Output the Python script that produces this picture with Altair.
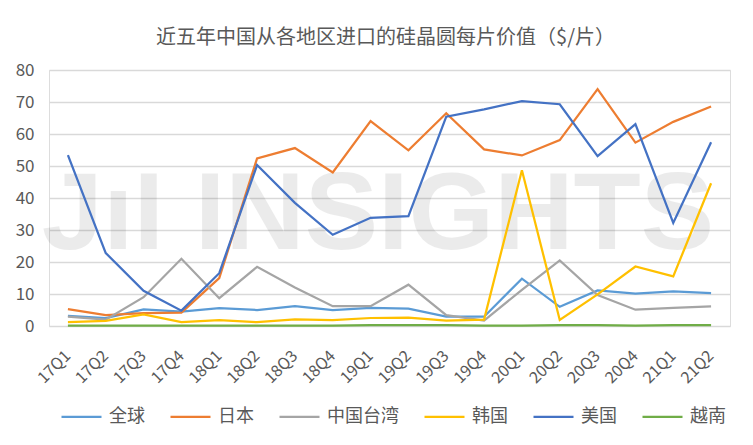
import altair as alt
import pandas as pd

quarters = ["17Q1","17Q2","17Q3","17Q4","18Q1","18Q2","18Q3","18Q4","19Q1","19Q2",
            "19Q3","19Q4","20Q1","20Q2","20Q3","20Q4","21Q1","21Q2"]
series_names = ["全球","日本","中国台湾","韩国","美国","越南"]
colors = ["#5B9BD5","#ED7D31","#A5A5A5","#FFC000","#4472C4","#70AD47"]

global_vals = [3.2,2.5,5.2,4.5,5.6,5.0,6.2,5.0,5.7,5.4,2.9,2.9,14.8,6.0,11.1,10.1,10.8,10.3]
japan_vals = [5.3,3.4,4.0,4.2,15.0,52.4,55.6,48.0,64.0,54.9,66.5,55.2,53.3,58.1,74.0,57.3,63.8,68.6]
taiwan_vals = [2.9,2.0,9.0,21.0,8.7,18.5,12.0,6.2,6.2,12.9,3.4,1.7,11.3,20.5,9.7,5.1,5.7,6.1]
korea_vals = [1.2,1.6,3.6,1.2,1.8,1.2,2.1,1.8,2.5,2.6,1.7,2.0,48.7,1.9,9.9,18.6,15.5,44.6]
usa_vals = [53.4,22.8,11.0,4.8,16.5,50.3,38.5,28.5,33.8,34.3,65.4,67.7,70.3,69.3,53.1,63.1,32.2,57.4]
vietnam_vals = [0.1,0.1,0.1,0.1,0.1,0.1,0.1,0.1,0.3,0.3,0.3,0.1,0.1,0.3,0.3,0.1,0.3,0.3]

title_text = "近五年中国从各地区进口的硅晶圆每片价值（$/片）"
watermark_text = ["JıI INSIGHTS"]

all_vals = [global_vals, japan_vals, taiwan_vals, korea_vals, usa_vals, vietnam_vals]
rows = []
for name, vals in zip(series_names, all_vals):
    for q, v in zip(quarters, vals):
        rows.append({"quarter": q, "series": name, "value": v})
df = pd.DataFrame(rows)

FONT = "Noto Sans CJK SC"
GRAY = "#595959"

lines = alt.Chart(df).mark_line(strokeWidth=2.25).encode(
    x=alt.X("quarter:N", sort=quarters, title=None,
            scale=alt.Scale(type="band", paddingInner=0, paddingOuter=0),
            axis=alt.Axis(labelAngle=-45, labelAlign="right", labelBaseline="middle",
                          labelPadding=27, ticks=False, domain=False, grid=False,
                          labelFont=FONT, labelFontSize=16, labelColor=GRAY)),
    y=alt.Y("value:Q", title=None,
            scale=alt.Scale(domain=[0, 80], nice=False),
            axis=alt.Axis(values=[0,10,20,30,40,50,60,70,80], ticks=False, domain=False,
                          grid=True, gridColor="#D9D9D9", gridWidth=1.3,
                          labelFont=FONT, labelFontSize=17, labelColor=GRAY,
                          labelPadding=15)),
    color=alt.Color("series:N", sort=series_names,
                    scale=alt.Scale(domain=series_names, range=colors),
                    legend=alt.Legend(title=None, orient="none", legendX=11, legendY=325,
                                      direction="horizontal", symbolType="stroke",
                                      symbolSize=1600, symbolStrokeWidth=2.25,
                                      labelFont=FONT, labelFontSize=18, labelColor=GRAY,
                                      labelOffset=6, columnPadding=21)),
)

wm = alt.Chart(pd.DataFrame({"t": watermark_text})).mark_text(
    font="Liberation Sans", fontWeight="bold", fontSize=110, color="#000000",
    opacity=0.075, align="center", baseline="middle"
).encode(text="t:N", x=alt.value(329), y=alt.value(146))

chart = alt.layer(wm, lines).properties(
    width=681, height=256,
    title=alt.TitleParams(title_text, font=FONT, fontSize=20, fontWeight="normal",
                          color=GRAY, anchor="middle", offset=13, dx=-4),
    autosize=alt.AutoSizeParams(type="none"),
    padding={"left": 41, "top": 62, "right": 15, "bottom": 110},
).configure_view(stroke=None).configure(background="white")

chart.save("out.html", embed_options={"renderer": "svg", "actions": False})
